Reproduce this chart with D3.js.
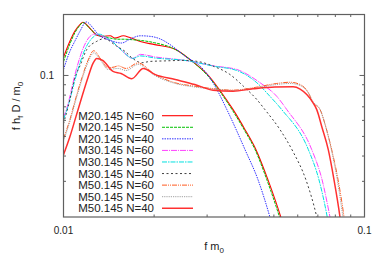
<!DOCTYPE html>
<html>
<head>
<meta charset="utf-8">
<script src="https://cdn.jsdelivr.net/npm/d3@7"></script>
<style>
  html, body { margin: 0; padding: 0; background: #fff; }
  svg { display: block; font-family: "Liberation Sans", Arial, sans-serif; }
</style>
</head>
<body>
<svg id="chart" width="382" height="267"></svg>
<script>
// series: [f m0, f h_f D / m0]
const m20n60 = [[0.0100,0.1228],[0.0105,0.1474],[0.0109,0.1652],[0.01134,0.1784],[0.0116,0.1831],[0.01225,0.171],[0.0129,0.158],[0.0135,0.156],[0.0143,0.157],[0.0148,0.153],[0.0158,0.157],[0.0166,0.154],[0.0180,0.147],[0.0201,0.142],[0.0235,0.1346],[0.0267,0.1177],[0.0307,0.0977],[0.0331,0.0843],[0.0366,0.0678],[0.0401,0.054],[0.0436,0.043],[0.0478,0.0305],[0.0527,0.020],[0.0549,0.0163]];
const m20n50 = [[0.0100,0.117],[0.0105,0.143],[0.0109,0.162],[0.01134,0.177],[0.0116,0.1825],[0.01225,0.170],[0.0129,0.159],[0.0135,0.156],[0.0143,0.153],[0.0150,0.151],[0.0160,0.151],[0.0170,0.150],[0.0180,0.149],[0.0201,0.145],[0.0235,0.1346],[0.0267,0.1177],[0.0305,0.0977],[0.0329,0.0843],[0.0363,0.0678],[0.0398,0.054],[0.0433,0.043],[0.0474,0.0305],[0.0522,0.020],[0.0545,0.0163]];
const m20n40 = [[0.0100,0.1071],[0.0105,0.1315],[0.0109,0.1474],[0.01134,0.1652],[0.0119,0.1838],[0.01253,0.1716],[0.0130,0.160],[0.0143,0.149],[0.0156,0.1446],[0.0166,0.151],[0.0180,0.157],[0.0194,0.156],[0.0209,0.1517],[0.0226,0.142],[0.0253,0.1247],[0.0288,0.1092],[0.0314,0.092],[0.0349,0.0678],[0.0401,0.043],[0.0443,0.0305],[0.0485,0.020],[0.0504,0.0163]];
const m30n60 = [[0.0100,0.0619],[0.01025,0.0688],[0.01106,0.1087],[0.01163,0.1366],[0.01225,0.156],[0.0127,0.160],[0.01374,0.154],[0.0146,0.146],[0.0156,0.133],[0.0170,0.1214],[0.0180,0.1271],[0.0201,0.1235],[0.0253,0.1187],[0.0319,0.1112],[0.0376,0.1071],[0.0450,0.092],[0.0511,0.0789],[0.0552,0.0678],[0.0668,0.043],[0.0723,0.0305],[0.0768,0.020],[0.0786,0.0168]];
const m30n50 = [[0.0100,0.0605],[0.01027,0.0678],[0.01117,0.1071],[0.01179,0.1346],[0.01243,0.1525],[0.0131,0.160],[0.0139,0.154],[0.0146,0.146],[0.0156,0.133],[0.0170,0.1214],[0.0180,0.1249],[0.0201,0.122],[0.0253,0.1187],[0.0319,0.1108],[0.0376,0.1059],[0.0439,0.092],[0.0485,0.0789],[0.0531,0.0678],[0.0651,0.043],[0.0706,0.0305],[0.0752,0.020],[0.0768,0.0168]];
const m30n40 = [[0.0100,0.0578],[0.0105,0.076],[0.0109,0.097],[0.01134,0.1115],[0.01194,0.1341],[0.0129,0.1474],[0.01363,0.152],[0.0150,0.1397],[0.0160,0.1315],[0.01685,0.1224],[0.0182,0.1156],[0.0194,0.1173],[0.0217,0.118],[0.0253,0.1187],[0.0284,0.1167],[0.0314,0.1112],[0.0357,0.1012],[0.0396,0.0885],[0.0439,0.076],[0.0467,0.0678],[0.0524,0.054],[0.0579,0.042],[0.0639,0.0305],[0.0694,0.020],[0.0712,0.0168]];
const m50n60 = [[0.0100,0.0487],[0.0105,0.0605],[0.0110,0.0778],[0.01152,0.0977],[0.01206,0.1187],[0.0126,0.1325],[0.01332,0.120],[0.01405,0.1092],[0.0148,0.1102],[0.0152,0.1115],[0.01613,0.1083],[0.0177,0.1153],[0.0201,0.1012],[0.0235,0.092],[0.0273,0.0885],[0.0311,0.0862],[0.0366,0.0846],[0.0426,0.0869],[0.0511,0.0913],[0.0566,0.0926],[0.0611,0.0902],[0.0651,0.0821],[0.0674,0.0735],[0.0712,0.0678],[0.0745,0.0552],[0.0778,0.043],[0.0817,0.0305],[0.0855,0.020],[0.0868,0.0168]];
const m50n50 = [[0.0100,0.0476],[0.0105,0.0592],[0.0110,0.076],[0.01152,0.0955],[0.01206,0.116],[0.0126,0.1293],[0.01332,0.118],[0.01405,0.1071],[0.0152,0.1083],[0.01613,0.1058],[0.0177,0.1134],[0.0201,0.100],[0.0235,0.0913],[0.0273,0.0877],[0.0311,0.0857],[0.0366,0.0843],[0.0426,0.0862],[0.0511,0.0902],[0.0566,0.0913],[0.0611,0.0892],[0.0651,0.0819],[0.0674,0.0743],[0.0712,0.0678],[0.0745,0.0552],[0.0776,0.043],[0.0812,0.0305],[0.0848,0.020],[0.0862,0.0168]];
const m50n40 = [[0.0100,0.0406],[0.0105,0.0498],[0.0110,0.0626],[0.01152,0.0787],[0.01206,0.0977],[0.01253,0.1147],[0.0129,0.1214],[0.0135,0.1187],[0.0146,0.1047],[0.01553,0.1023],[0.01685,0.0963],[0.01841,0.1083],[0.0201,0.1012],[0.0235,0.0955],[0.0273,0.0902],[0.0314,0.0846],[0.0366,0.0836],[0.0426,0.0859],[0.0504,0.0877],[0.0579,0.0879],[0.0611,0.0857],[0.0643,0.0805],[0.0674,0.0735],[0.0694,0.0678],[0.0723,0.0552],[0.0758,0.043],[0.0792,0.0305],[0.0829,0.020],[0.0842,0.0168]];

const seriesNames = ['M20.145 N=60', 'M20.145 N=50', 'M20.145 N=40', 'M30.145 N=60', 'M30.145 N=50',
  'M30.145 N=40', 'M50.145 N=60', 'M50.145 N=50', 'M50.145 N=40'];
const seriesData = [m20n60, m20n50, m20n40, m30n60, m30n50, m30n40, m50n60, m50n50, m50n40];

const xTickLabels = [0.01, 0.1];
const yTickLabels = [0.1];
const xMinorTicks = [0.02, 0.03, 0.04, 0.05, 0.06, 0.07, 0.08, 0.09];
const yMinorTicks = [0.03, 0.04, 0.05, 0.06, 0.07, 0.08, 0.09];

const styles = [
  { color: '#ff0000', dash: null, width: 1.1 },
  { color: '#00c000', dash: '3,1', width: 1 },
  { color: '#3030ff', dash: '1.5,1', width: 1 },
  { color: '#ff40ff', dash: '6,1,1,1', width: 1 },
  { color: '#00e0e0', dash: '5,1,1.5,1', width: 1 },
  { color: '#404040', dash: '2,2.5', width: 1 },
  { color: '#ff5a20', dash: '5,1,1,1,1,1', width: 1 },
  { color: '#a0a0a0', dash: '1.2,1', width: 1 },
  { color: '#ff3030', dash: null, width: 1.5 }
];

const plotLeft = 63.5, plotRight = 364.5, plotTop = 14.5, plotBottom = 217;

const svg = d3.select('#chart');

const x = d3.scaleLog().domain([0.01, 0.1]).range([plotLeft, plotRight]);
const y = d3.scaleLog().domain([0.02, 0.2]).range([plotBottom, plotTop]);

svg.append('defs').append('clipPath').attr('id', 'plotClip')
  .append('rect')
  .attr('x', plotLeft).attr('y', plotTop)
  .attr('width', plotRight - plotLeft).attr('height', plotBottom - plotTop);

const line = d3.line()
  .x(d => x(d[0]))
  .y(d => y(d[1]))
  .curve(d3.curveMonotoneX);

const plot = svg.append('g').attr('clip-path', 'url(#plotClip)');

seriesData.forEach((data, i) => {
  plot.append('path')
    .datum(data)
    .attr('fill', 'none')
    .attr('stroke', styles[i].color)
    .attr('stroke-width', styles[i].width)
    .attr('stroke-dasharray', styles[i].dash)
    .attr('d', line);
});

// frame + ticks
const axisColor = '#606060';
const ticks = svg.append('g').attr('stroke', axisColor).attr('stroke-width', 1);

xMinorTicks.forEach(v => {
  ticks.append('line').attr('x1', x(v)).attr('x2', x(v)).attr('y1', plotBottom).attr('y2', plotBottom - 2.5);
  ticks.append('line').attr('x1', x(v)).attr('x2', x(v)).attr('y1', plotTop).attr('y2', plotTop + 2.5);
});
yMinorTicks.forEach(v => {
  ticks.append('line').attr('y1', y(v)).attr('y2', y(v)).attr('x1', plotLeft).attr('x2', plotLeft + 2.5);
  ticks.append('line').attr('y1', y(v)).attr('y2', y(v)).attr('x1', plotRight).attr('x2', plotRight - 2.5);
});
yTickLabels.forEach(v => {
  ticks.append('line').attr('y1', y(v)).attr('y2', y(v)).attr('x1', plotLeft).attr('x2', plotLeft + 5);
  ticks.append('line').attr('y1', y(v)).attr('y2', y(v)).attr('x1', plotRight).attr('x2', plotRight - 5);
});

svg.append('rect')
  .attr('x', plotLeft).attr('y', plotTop)
  .attr('width', plotRight - plotLeft).attr('height', plotBottom - plotTop)
  .attr('fill', 'none')
  .attr('stroke', axisColor)
  .attr('stroke-width', 1.2);

// tick labels
svg.append('g').selectAll('text')
  .data(xTickLabels)
  .join('text')
  .attr('x', d => x(d))
  .attr('y', 234)
  .attr('text-anchor', 'middle')
  .attr('font-size', 10)
  .attr('fill', '#222')
  .text(d => d);

svg.append('g').selectAll('text')
  .data(yTickLabels)
  .join('text')
  .attr('x', 54)
  .attr('y', d => y(d) + 3.5)
  .attr('text-anchor', 'end')
  .attr('font-size', 10)
  .attr('fill', '#222')
  .text(d => d);

// axis titles
const xTitle = svg.append('text')
  .attr('x', 214).attr('y', 250)
  .attr('text-anchor', 'middle')
  .attr('font-size', 11)
  .attr('fill', '#222');
xTitle.append('tspan').text('f m');
xTitle.append('tspan').attr('dy', 3).attr('font-size', 8).text('0');

const yTitle = svg.append('text')
  .attr('transform', 'translate(20,106) rotate(-90)')
  .attr('text-anchor', 'middle')
  .attr('font-size', 11)
  .attr('fill', '#222');
yTitle.append('tspan').text('f h');
yTitle.append('tspan').attr('dy', 3).attr('font-size', 8).text('f');
yTitle.append('tspan').attr('dy', -3).text(' D / m');
yTitle.append('tspan').attr('dy', 3).attr('font-size', 8).text('0');

// legend
const legend = svg.append('g');
seriesNames.forEach((name, i) => {
  const ly = 115.7 + i * 11.57;
  legend.append('text')
    .attr('x', 154).attr('y', ly + 4)
    .attr('text-anchor', 'end')
    .attr('font-size', 11.5)
    .attr('fill', '#222')
    .text(name);
  legend.append('line')
    .attr('x1', 162).attr('x2', 193)
    .attr('y1', ly).attr('y2', ly)
    .attr('stroke', styles[i].color)
    .attr('stroke-width', styles[i].width)
    .attr('stroke-dasharray', styles[i].dash);
});
</script>
</body>
</html>
